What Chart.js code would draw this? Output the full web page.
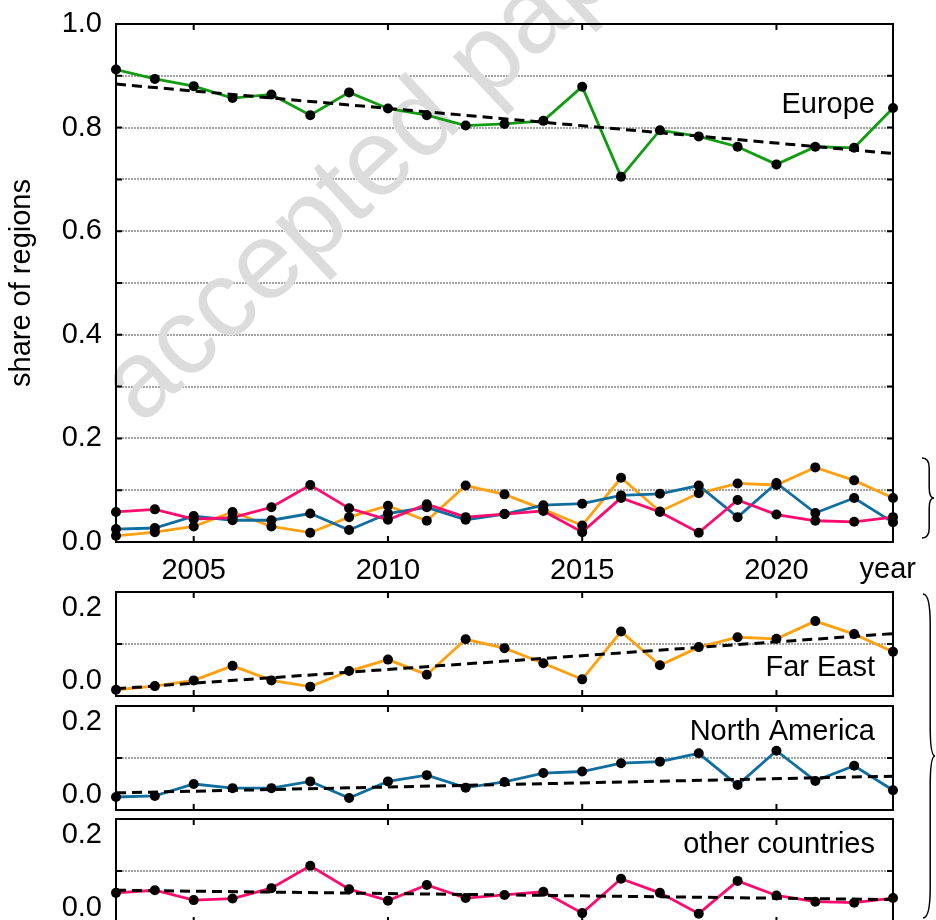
<!DOCTYPE html>
<html>
<head>
<meta charset="utf-8">
<script src="https://cdn.jsdelivr.net/npm/chart.js@4.4.0/dist/chart.umd.min.js"></script>
<style>
  html, body { margin: 0; padding: 0; background: #fff; overflow: hidden; }
  #wrap { position: relative; width: 936px; height: 920px; }
  canvas { position: absolute; left: 0; }
</style>
</head>
<body>
<div id="wrap">
  <canvas id="mainChart" width="936" height="920" style="top:0"></canvas>
  <canvas id="farEastChart" width="936" height="124" style="top:582px"></canvas>
  <canvas id="northAmericaChart" width="936" height="124" style="top:696px"></canvas>
  <canvas id="otherChart" width="936" height="124" style="top:809px"></canvas>
</div>
<script>
// data
const years = [2003, 2004, 2005, 2006, 2007, 2008, 2009, 2010, 2011, 2012, 2013,
               2014, 2015, 2016, 2017, 2018, 2019, 2020, 2021, 2022, 2023];
const tickYears = [2005, 2010, 2015, 2020];

const europe = [0.912, 0.894, 0.880, 0.857, 0.864, 0.824, 0.868, 0.837, 0.824, 0.804, 0.807,
                0.813, 0.879, 0.705, 0.795, 0.783, 0.763, 0.729, 0.763, 0.761, 0.838];
const farEast = [0.012, 0.019, 0.030, 0.058, 0.030, 0.018, 0.048, 0.070, 0.041, 0.109, 0.092,
                 0.063, 0.032, 0.124, 0.059, 0.094, 0.113, 0.110, 0.144, 0.119, 0.085];
const northAmerica = [0.025, 0.027, 0.050, 0.042, 0.042, 0.055, 0.023, 0.055, 0.067, 0.043, 0.054,
                      0.071, 0.074, 0.090, 0.093, 0.109, 0.048, 0.114, 0.056, 0.085, 0.038];
const otherCountries = [0.058, 0.063, 0.044, 0.047, 0.067, 0.110, 0.065, 0.043, 0.073, 0.048, 0.054,
                        0.060, 0.019, 0.085, 0.058, 0.018, 0.081, 0.053, 0.041, 0.039, 0.048];

// linear trend lines, start and end values
const trendYears = [2003, 2023];
const europeTrend = [0.884, 0.750];
const farEastTrend = [0.014, 0.120];
const northAmericaTrend = [0.033, 0.065];
const otherTrend = [0.063, 0.045];

const GREEN = '#109c10', ORANGE = '#ffa010', BLUE = '#0f6e9e', PINK = '#ff0a6e';
const FONT = { family: "'Liberation Sans', Arial, sans-serif", size: 29 };
const FONT_CSS = "29px 'Liberation Sans', Arial, sans-serif";

function pairs(xs, ys) { return xs.map((x, i) => ({ x: x, y: ys[i] })); }

function lineSet(values, color) {
  return { data: pairs(years, values), borderColor: color, borderWidth: 2.8, pointRadius: 0, order: 2 };
}
function dotSet(values) {
  return { data: pairs(years, values), showLine: false, pointRadius: 5, pointBackgroundColor: '#000',
           pointBorderWidth: 0, order: 0, clip: false };
}
function trendSet(values) {
  return { data: pairs(trendYears, values), borderColor: '#000', borderWidth: 3, borderDash: [10, 6],
           pointRadius: 0, order: 1 };
}

function drawBrace(ctx, x, y1, y2, w, r) {
  const xm = x + w * 0.6, ym = (y1 + y2) / 2;
  ctx.beginPath();
  ctx.moveTo(x, y1);
  ctx.quadraticCurveTo(xm, y1, xm, y1 + r);
  ctx.lineTo(xm, ym - r);
  ctx.quadraticCurveTo(xm, ym, x + w, ym);
  ctx.quadraticCurveTo(xm, ym, xm, ym + r);
  ctx.lineTo(xm, y2 - r);
  ctx.quadraticCurveTo(xm, y2, x, y2);
  ctx.stroke();
}

// box, inward ticks and text labels, gnuplot style
const framePlugin = {
  id: 'frame',
  beforeDatasetsDraw(chart, args, opts) {
    if (!opts.watermark) return;
    const ctx = chart.ctx;
    ctx.save();
    ctx.translate(141, 426);
    ctx.rotate(-43 * Math.PI / 180);
    ctx.fillStyle = '#dcdcdc';
    ctx.font = "109px 'Liberation Sans', Arial, sans-serif";
    ctx.fillText('accepted paper', 0, 0);
    ctx.restore();
  },
  afterDatasetsDraw(chart, args, opts) {
    const { ctx, chartArea: a, scales: { x, y } } = chart;
    ctx.save();
    ctx.strokeStyle = '#000';
    ctx.lineWidth = 2;
    ctx.strokeRect(a.left, a.top, a.right - a.left, a.bottom - a.top);
    ctx.beginPath();
    y.ticks.forEach(t => {
      const py = y.getPixelForValue(t.value);
      ctx.moveTo(a.left, py); ctx.lineTo(a.left + 6, py);
      ctx.moveTo(a.right, py); ctx.lineTo(a.right - 6, py);
    });
    tickYears.forEach(v => {
      const px = x.getPixelForValue(v);
      ctx.moveTo(px, a.top); ctx.lineTo(px, a.top + 6);
      ctx.moveTo(px, a.bottom); ctx.lineTo(px, a.bottom - 6);
    });
    ctx.stroke();

    ctx.fillStyle = '#000';
    ctx.font = FONT_CSS;
    ctx.textAlign = 'right';
    ctx.textBaseline = 'alphabetic';
    ctx.fillText(opts.label, a.right - 18, y.getPixelForValue(opts.labelAt));

    if (opts.smallTicks) {
      ctx.textBaseline = 'middle';
      ctx.fillText('0.2', a.left - 14, y.getPixelForValue(0.2) + 16);
      ctx.fillText('0.0', a.left - 14, y.getPixelForValue(0) - 15);
    }
    if (opts.xTitle) {
      ctx.textBaseline = 'alphabetic';
      ctx.fillText(opts.xTitle, a.right + 23, a.bottom + 36);
    }
    if (opts.braces) {
      ctx.lineWidth = 1.5;
      drawBrace(ctx, 922, 458, 538, 12, 10);
      drawBrace(ctx, 923, 594, 918, 12, 30);
    }
    ctx.restore();
  }
};
Chart.register(framePlugin);

const gridColor = ctx => (ctx.tick && ctx.tick.value > 0.001 && Math.abs(ctx.tick.value - ctx.scale.max) > 0.001)
  ? '#a3a3a3' : 'rgba(0,0,0,0)';

function xScale(showLabels) {
  return {
    type: 'linear', min: 2003, max: 2023, display: showLabels,
    afterBuildTicks: s => { s.ticks = tickYears.map(v => ({ value: v })); },
    afterFit: s => { s.height = showLabels ? 48 : 0; },
    grid: { display: false, drawTicks: false },
    border: { display: false },
    ticks: { color: '#000', font: FONT, padding: 12, maxRotation: 0, callback: v => String(v) }
  };
}

function fitY(s) {
  s.width = 116;
  s.paddingTop = 0;
  s.paddingBottom = 0;
}

// main panel: all regions
new Chart(document.getElementById('mainChart'), {
  type: 'line',
  data: {
    datasets: [
      dotSet(europe), dotSet(farEast), dotSet(northAmerica), dotSet(otherCountries),
      trendSet(europeTrend),
      lineSet(europe, GREEN), lineSet(otherCountries, PINK), lineSet(northAmerica, BLUE), lineSet(farEast, ORANGE)
    ]
  },
  options: {
    responsive: false,
    animation: false,
    layout: { padding: { top: 24, right: 43, bottom: 330, left: 0 } },
    plugins: {
      legend: { display: false },
      tooltip: { enabled: false },
      frame: { label: 'Europe', labelAt: 0.828, xTitle: 'year', watermark: true, braces: true }
    },
    scales: {
      x: xScale(true),
      y: {
        min: 0, max: 1,
        afterFit: fitY,
        ticks: {
          stepSize: 0.1, color: '#000', font: FONT, padding: 14,
          callback: v => (Math.round(v * 10) % 2 === 0 ? v.toFixed(1) : '')
        },
        grid: { color: gridColor, lineWidth: 2, drawTicks: false },
        border: { display: false, dash: [2, 1] },
        title: { display: true, text: 'share of regions', color: '#000', font: FONT, padding: { top: 5, bottom: 0 } }
      }
    }
  }
});

// small panels, one region each
function smallPanel(id, values, trend, color, label, labelAt) {
  new Chart(document.getElementById(id), {
    type: 'line',
    data: { datasets: [dotSet(values), trendSet(trend), lineSet(values, color)] },
    options: {
      responsive: false,
      animation: false,
      layout: { padding: { top: 10, right: 43, bottom: 10, left: 0 } },
      plugins: {
        legend: { display: false },
        tooltip: { enabled: false },
        frame: { label: label, labelAt: labelAt, smallTicks: true }
      },
      scales: {
        x: xScale(false),
        y: {
          min: 0, max: 0.2,
          afterFit: fitY,
          ticks: { stepSize: 0.1, display: false },
          grid: { color: gridColor, lineWidth: 2, drawTicks: false },
          border: { display: false, dash: [2, 1] }
        }
      }
    }
  });
}

smallPanel('farEastChart', farEast, farEastTrend, ORANGE, 'Far East', 0.039);
smallPanel('northAmericaChart', northAmerica, northAmericaTrend, BLUE, 'North America', 0.134);
smallPanel('otherChart', otherCountries, otherTrend, PINK, 'other countries', 0.134);
</script>
</body>
</html>
